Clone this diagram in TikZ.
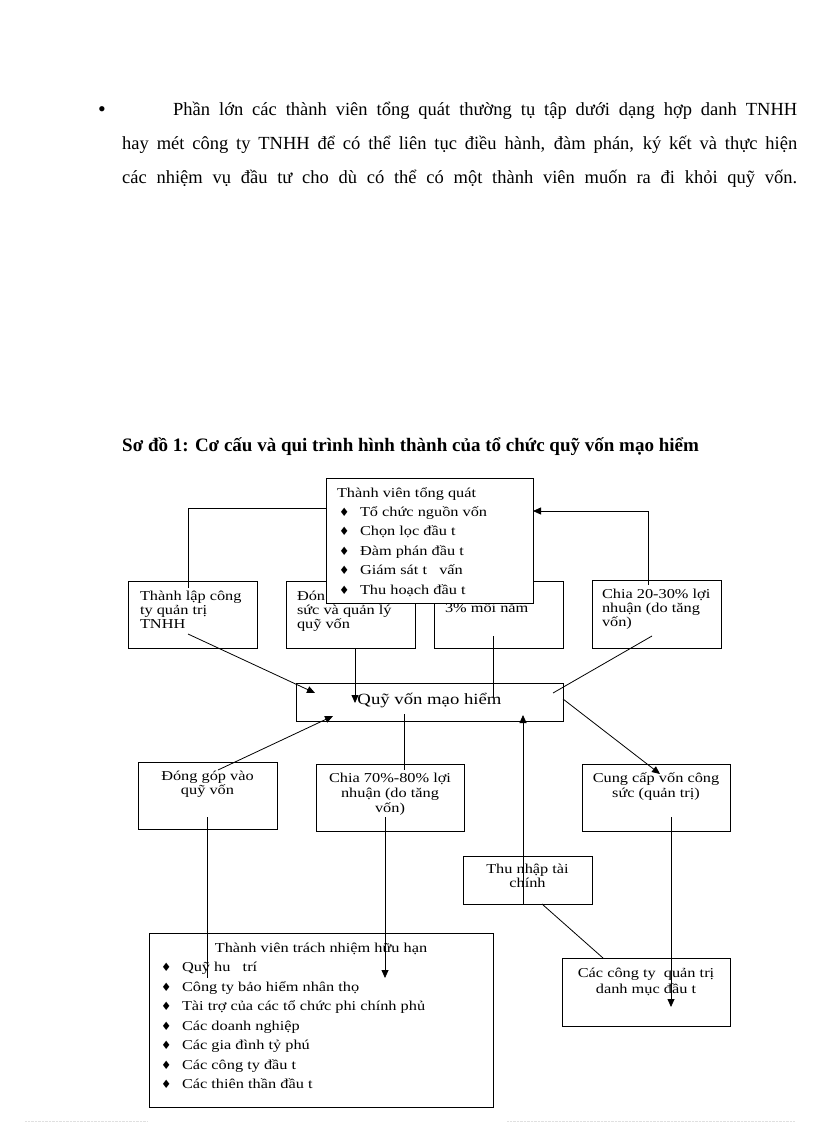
\documentclass[tikz,border=0pt]{standalone}
\usepackage{fontspec}
\setmainfont{Liberation Serif}
\newfontfamily\diafont{Liberation Serif}[FakeStretch=1.2]
\newfontfamily\symfont{DejaVu Sans}
\usetikzlibrary{arrows.meta}
\newcommand\dfs[2]{\diafont\fontsize{#1}{#2}\selectfont}
\newcommand\dmd{\makebox[20pt][l]{\hspace*{-1pt}\symfont\fontsize{11.5}{11}\selectfont ♦}}
\newcommand\bxt[4]{\parbox[c][#2pt][t]{#1pt}{\vspace*{\dimexpr #3pt-\ht\strutbox\relax}#4}}
\tikzset{
  box/.style={draw, line width=0.8pt, inner sep=0pt, outer sep=0pt, anchor=north west, fill=white},
  conn/.style={line width=0.8pt},
  arr/.style={line width=0.8pt, -{Triangle[length=8pt,width=7pt]}},
  para/.style={inner sep=0pt, anchor=base west, font=\fontsize{18.5}{22}\selectfont},
}
\begin{document}
\begin{tikzpicture}[x=1pt,y=-1pt]
\useasboundingbox (0,0) rectangle (816,1123);
\fill[white] (0,0) rectangle (816,1123);

% paragraph
\node[para, font=\fontsize{22}{22}\selectfont] (bul) at (98,117) {•};
\node[para] (l1) at (173,116) {\makebox[624pt][s]{Phần lớn các thành viên tổng quát thường tụ tập dưới dạng hợp danh TNHH}};
\node[para] (l2) at (122,150) {\makebox[675pt][s]{hay mét công ty TNHH để có thể liên tục điều hành, đàm phán, ký kết và thực hiện}};
\node[para] (l3) at (122,184) {\makebox[675pt][s]{các nhiệm vụ đầu tư cho dù có thể có một thành viên muốn ra đi khỏi quỹ vốn.}};

% title
\node[inner sep=0pt, anchor=base west, font=\bfseries\fontsize{19}{21}\selectfont] (title) at (122,451) {Sơ đồ 1: Cơ cấu và qui trình hình thành của tổ chức quỹ vốn mạo hiểm};

% top row boxes
\node[box, font=\dfs{13.6}{14}] (A) at (128,581) {\bxt{129}{67}{19}{\raggedright\leftskip=12pt\strut Thành lập công\\ty quản trị\\TNHH}};
\node[box, font=\dfs{13.6}{14}] (B) at (286,581) {\bxt{129}{67}{19}{\raggedright\leftskip=11pt\strut Đón\\sức và quản lý\\quỹ vốn}};
\node[box, font=\dfs{13.6}{14}] (C) at (434,581) {\bxt{129}{67}{31}{\raggedright\leftskip=11pt\strut 3\% mỗi năm}};
\node[box, font=\dfs{13.6}{14}] (D) at (592,580) {\bxt{129}{68}{18}{\raggedright\leftskip=10pt\strut Chia 20-30\% lợi\\nhuận (do tăng\\vốn)}};

% top box
\node[box, font=\dfs{13.6}{19.4}] (T) at (326,478) {\bxt{207}{125}{19}{\raggedright\leftskip=14pt\strut\hspace*{-3pt}Thành viên tổng quát\\
\dmd Tổ chức nguồn vốn\\
\dmd Chọn lọc đầu t\\
\dmd Đàm phán đầu t\\
\dmd Giám sát t\ \ \ vấn\\
\dmd Thu hoạch đầu t}};

% central box
\node[box, font=\dfs{15.6}{17}] (Q) at (296,683) {\bxt{267}{38}{21}{\centering\strut Quỹ vốn mạo hiểm}};

% middle row
\node[box, font=\dfs{13.6}{13.5}] (E) at (138,762) {\bxt{139}{67}{18}{\centering\strut Đóng góp vào\\quỹ vốn}};
\node[box, font=\dfs{13.6}{15}] (F) at (316,764) {\bxt{148}{67}{18}{\centering\strut Chia 70\%-80\% lợi\\nhuận (do tăng\\vốn)}};
\node[box, font=\dfs{13.6}{15}] (G) at (582,764) {\bxt{148}{67}{18}{\centering\strut Cung cấp vốn công\\sức (quản trị)}};

% lower boxes
\node[box, font=\dfs{13.6}{14}] (H) at (463,856) {\bxt{129}{48}{17}{\centering\strut Thu nhập tài\\chính}};
\node[box, font=\dfs{13.6}{16}] (I) at (562,958) {\bxt{168}{68}{19}{\centering\strut Các công ty\ \ quản trị\\danh mục đầu t}};
\node[box, font=\dfs{13.6}{19.5}] (J) at (149,933) {\bxt{344}{174}{19}{{\centering\strut Thành viên trách nhiệm hữu hạn\par}
\raggedright\leftskip=13pt
\dmd Quỹ hu\ \ \ trí\\
\dmd Công ty bảo hiểm nhân thọ\\
\dmd Tài trợ của các tổ chức phi chính phủ\\
\dmd Các doanh nghiệp\\
\dmd Các gia đình tỷ phú\\
\dmd Các công ty đầu t\\
\dmd Các thiên thần đầu t}};

% connector end points
\coordinate (a0) at (188,588);
\coordinate (d0) at (648,585);
\coordinate (a1) at (188,634);
\coordinate (q1) at (315,693);
\coordinate (b1) at (355,648);
\coordinate (q2) at (355,703);
\coordinate (c1) at (493,636);
\coordinate (q3) at (493,697);
\coordinate (d1) at (652,636);
\coordinate (q4) at (553,693);
\coordinate (g1) at (660,774);
\coordinate (e1) at (218,770);
\coordinate (q5) at (333,716);
\coordinate (q6) at (404,714);
\coordinate (f1) at (404,770);
\coordinate (e2) at (207,817);
\coordinate (j1) at (207,978);
\coordinate (f2) at (385,817);
\coordinate (j2) at (385,978);
\coordinate (q7) at (523,715);
\coordinate (g2) at (671,817);
\coordinate (i1) at (671,1007);

% connectors
\draw[conn] (a0) |- (T.west |- 0,508);
\draw[arr] (d0) |- (T.east |- 0,511);
\draw[arr] (a1) -- (q1);
\draw[arr] (b1) -- (q2);
\draw[conn] (c1) -- (q3);
\draw[conn] (d1) -- (q4);
\draw[arr] (Q.east |- 0,699) -- (g1);
\draw[arr] (e1) -- (q5);
\draw[conn] (q6) -- (f1);
\draw[conn] (e2) -- (j1);
\draw[arr] (f2) -- (j2);
\draw[arr] (H.south -| 523,0) -- (q7);
\draw[arr] (g2) -- (i1);
\draw[conn] (H.south -| 542,0) -- (I.north -| 603,0);

% faint page residue at the bottom
\draw[densely dotted, black!12] (25,1121) -- (148,1121);
\draw[densely dotted, black!12] (507,1121) -- (795,1121);
\end{tikzpicture}
\end{document}
